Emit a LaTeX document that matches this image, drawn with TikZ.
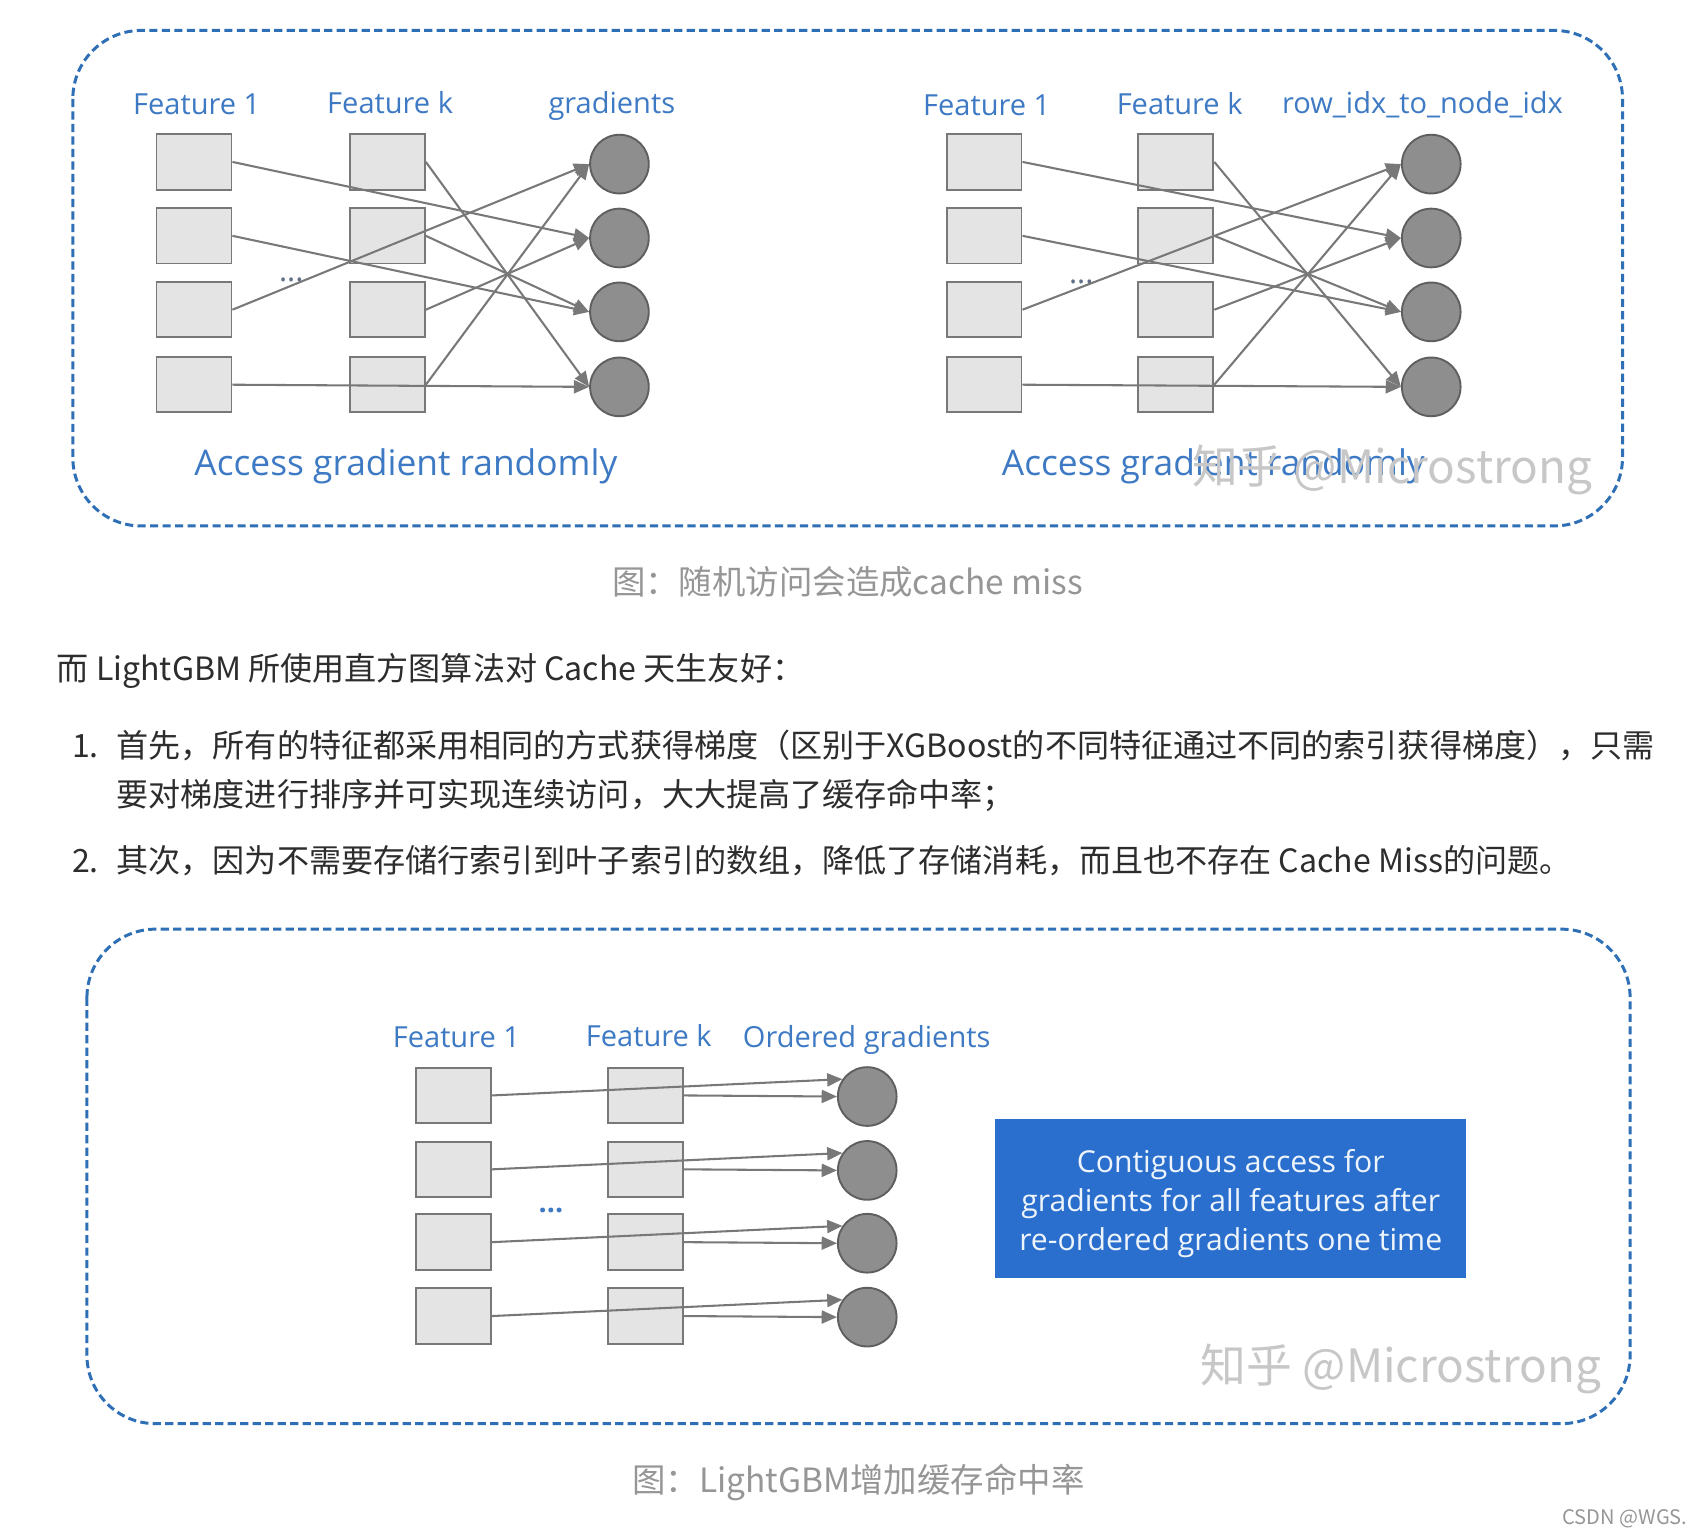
\documentclass[tikz,border=0pt]{standalone}
\usepackage{fontspec}
\setmainfont{Open Sans}
\newfontfamily\cjk{Noto Sans CJK SC}
\usetikzlibrary{arrows.meta}

\definecolor{framebl}{RGB}{47,111,181}
\definecolor{headbl}{RGB}{62,122,196}
\definecolor{dotgray}{RGB}{95,110,135}
\definecolor{cellfill}{RGB}{228,228,228}
\definecolor{linegray}{RGB}{120,120,120}
\definecolor{ballfill}{RGB}{142,142,142}
\definecolor{ballline}{RGB}{95,95,95}
\definecolor{notebl}{RGB}{42,111,205}
\definecolor{bodytxt}{RGB}{45,45,45}
\definecolor{captxt}{RGB}{150,150,150}

\begin{document}
\begin{tikzpicture}[x=0.2mm,y=-0.2mm,
  frame/.style={draw=framebl,line width=0.55mm,dash pattern=on 1.5mm off 0.8mm,rounded corners=12.6mm},
  cell/.style={draw=linegray,fill=cellfill,line width=0.35mm,minimum width=13.8mm,minimum height=10.2mm,inner sep=0pt},
  ball/.style={circle,draw=ballline,fill=ballfill,line width=0.35mm,minimum size=10.8mm,inner sep=0pt},
  link/.style={draw=linegray,line width=0.38mm,-{Triangle[length=2.8mm,width=2.4mm]}},
  head/.style={anchor=base,text=headbl,inner sep=0pt,font=\fontsize{15.2}{18}\selectfont},
  access/.style={anchor=base,text=headbl,inner sep=0pt,font=\fontsize{18.5}{22}\selectfont},
  body/.style={anchor=base west,text=bodytxt,inner sep=0pt,font=\cjk\fontsize{16.8}{20}\selectfont},
  caption/.style={anchor=base,text=captxt,inner sep=0pt,font=\cjk\fontsize{17.5}{20}\selectfont},
  wmark/.style={anchor=base,text=black!22,inner sep=0pt,font=\cjk\fontsize{24}{28}\selectfont}]

\path[fill=white] (0,0) rectangle (1568,1415);

% random access: gradients
\draw[frame] (67,28) rectangle (1493,484);
\node[head] (lh1) at (181,105) {Feature 1};
\node[head] (lh2) at (359,104) {Feature k};
\node[head] (lh3) at (563,104) {gradients};
\foreach \i/\y in {1/149,2/217,3/285,4/354} {
  \node[cell] (la\i) at (178.5,\y) {};
  \node[cell] (lb\i) at (356.5,\y) {};
  \node[ball] (lg\i) at (570,\y+2) {};
}
\node[anchor=base,text=dotgray,inner sep=0pt,font=\fontsize{16}{18}\selectfont] (ldots) at (268,259) {...};
\foreach \s/\t in {la1/lg2,la2/lg3,la3/lg1,la4/lg4,lb1/lg4,lb2/lg3,lb3/lg2,lb4/lg1}
  \draw[link] (\s.east) -- (\t.west);
\node[access] (lacc) at (373.5,438) {Access gradient randomly};

% random access: row_idx_to_node_idx
\node[head] (rh1) at (908,106) {Feature 1};
\node[head] (rh2) at (1085.5,105) {Feature k};
\node[head] (rh3) at (1309,104) {row\_idx\_to\_node\_idx};
\foreach \i/\y in {1/149,2/217,3/285,4/354} {
  \node[cell] (ra\i) at (905.5,\y) {};
  \node[cell] (rb\i) at (1082,\y) {};
  \node[ball] (rg\i) at (1317,\y+2) {};
}
\node[anchor=base,text=dotgray,inner sep=0pt,font=\fontsize{16}{18}\selectfont] (rdots) at (995,261) {...};
\foreach \s/\t in {ra1/rg2,ra2/rg3,ra3/rg1,ra4/rg4,rb1/rg4,rb2/rg3,rb3/rg2,rb4/rg1}
  \draw[link] (\s.east) -- (\t.west);
\node[access] (racc) at (1116.5,438) {Access gradient randomly};
\node[wmark] (wm1) at (1281,445) {知乎 @Microstrong};

\node[caption] (cap1) at (780,547) {图：随机访问会造成cache miss};

% text
\node[body] (intro) at (52,626) {而 LightGBM 所使用直方图算法对 Cache 天生友好：};
\node[body] (num1) at (66,697) {1.};
\node[body] (item1a) at (107,697) {首先，所有的特征都采用相同的方式获得梯度（区别于XGBoost的不同特征通过不同的索引获得梯度），只需};
\node[body] (item1b) at (107,742) {要对梯度进行排序并可实现连续访问，大大提高了缓存命中率；};
\node[body] (num2) at (66,803) {2.};
\node[body] (item2) at (107,803) {其次，因为不需要存储行索引到叶子索引的数组，降低了存储消耗，而且也不存在 Cache Miss的问题。};

% ordered gradients
\draw[frame] (80,855) rectangle (1500,1310);
\node[head] (bh1) at (420,964) {Feature 1};
\node[head] (bh2) at (597,963) {Feature k};
\node[head] (bh3) at (797.5,964) {Ordered gradients};
\foreach \i/\y in {1/1008,2/1076,3/1143,4/1211} {
  \node[cell] (ba\i) at (417.5,\y) {};
  \node[cell] (bb\i) at (594,\y) {};
  \node[ball] (bg\i) at (798,\y+1) {};
  \draw[link] (ba\i.east) -- (bg\i.145);
  \draw[link] (bb\i.east) -- (bg\i.west);
}
\node[anchor=base,text=headbl,inner sep=0pt,font=\bfseries\fontsize{15}{18}\selectfont] (bdots) at (507,1116) {...};
\node[fill=notebl,minimum width=86.6mm,minimum height=29.2mm,text=white!92!notebl,align=center,
  font=\fontsize{15.8}{20.5}\selectfont] (note) at (1132.5,1103)
  {\rule{0pt}{17.5pt}Contiguous access for\\gradients for all features after\\re-ordered gradients one time};
\node[wmark] (wm2) at (1289,1272) {知乎 @Microstrong};

\node[caption] (cap2) at (790,1373) {图：LightGBM增加缓存命中率};
\node[anchor=base east,text=captxt,inner sep=0pt,font=\cjk\fontsize{10.5}{12}\selectfont] (csdn) at (1553,1403) {CSDN @WGS.};
\end{tikzpicture}
\end{document}
